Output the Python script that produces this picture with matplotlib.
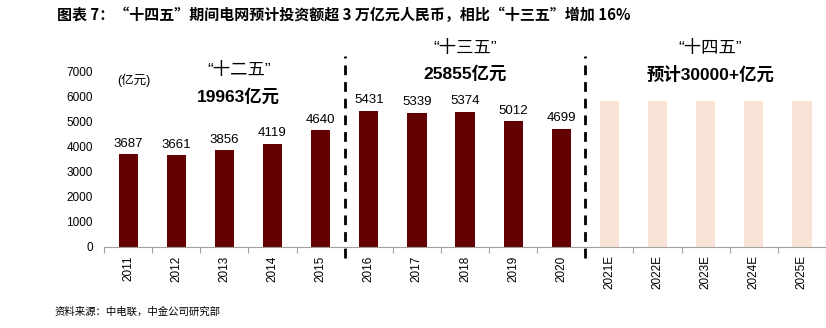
import matplotlib
matplotlib.use("Agg")
import matplotlib.pyplot as plt

plt.rcParams["font.family"] = ["Liberation Sans", "Noto Sans CJK SC", "DejaVu Sans"]

years = ["2011", "2012", "2013", "2014", "2015",
         "2016", "2017", "2018", "2019", "2020",
         "2021E", "2022E", "2023E", "2024E", "2025E"]
actual = [3687, 3661, 3856, 4119, 4640, 5431, 5339, 5374, 5012, 4699]
forecast = [5800, 5800, 5800, 5800, 5800]   # 30000 亿元 spread as placeholders
yticks = [0, 1000, 2000, 3000, 4000, 5000, 6000, 7000]

DARK = "#650000"
LIGHT = "#f9e3d6"

fig = plt.figure(figsize=(8.26, 3.28), dpi=100)
ax = fig.add_axes([0.126, 0.247, 0.874, 0.536])

n_act = len(actual)
x_act = list(range(n_act))
x_fc = list(range(n_act, n_act + len(forecast)))
ax.bar(x_act, actual, width=0.4, color=DARK, zorder=2)
ax.bar(x_fc, forecast, width=0.4, color=LIGHT, zorder=2)

for x, v in zip(x_act, actual):
    ax.text(x, v + 180, f"{v}", ha="center", va="bottom", fontsize=9.5, clip_on=False)

ax.set_xlim(-0.5, len(years) - 0.5)
ax.set_ylim(0, 7000)
ax.set_yticks(yticks)
ax.set_yticklabels([str(t) for t in yticks], fontsize=8.5)
ax.set_xticks(range(len(years)))
ax.set_xticklabels(years, rotation=90, fontsize=8.5)
ax.tick_params(axis="y", length=0, pad=8)
ax.tick_params(axis="x", length=0, pad=6)

# category separators on the baseline
ax.set_xticks([i - 0.5 for i in range(len(years) + 1)], minor=True)
ax.tick_params(axis="x", which="minor", length=4, color="#a0a0a0", width=0.8)

for s in ("top", "right", "left"):
    ax.spines[s].set_visible(False)
ax.spines["bottom"].set_color("#a0a0a0")
ax.spines["bottom"].set_linewidth(0.8)

# period dividers
for xd in (4.5, 9.5):
    ax.plot([xd, xd], [-450, 7600], color="black", lw=2, ls=(0, (3.5, 2.5)),
            clip_on=False, zorder=3)

ax.text(-0.22, 6650, "(亿元)", fontsize=9, va="center", ha="left")
ax.text(2.3, 7040, "“十二五”", fontsize=12.5, ha="center", va="center", clip_on=False)
ax.text(2.3, 5980, "19963亿元", fontsize=12.5, fontweight="bold", ha="center", va="center")
ax.text(7.0, 7930, "“十三五”", fontsize=12.5, ha="center", va="center", clip_on=False)
ax.text(7.0, 6900, "25855亿元", fontsize=12.5, fontweight="bold", ha="center", va="center", clip_on=False)
ax.text(12.1, 7930, "“十四五”", fontsize=12.5, ha="center", va="center", clip_on=False)
ax.text(12.1, 6900, "预计30000+亿元", fontsize=12.5, fontweight="bold", ha="center", va="center", clip_on=False)

fig.text(0.069, 0.954, "图表 7：“十四五”期间电网预计投资额超 3 万亿元人民币，相比“十三五”增加 16%",
         fontsize=10.8, fontweight="bold", ha="left", va="center",
         family=["Noto Sans CJK SC", "DejaVu Sans"])
fig.text(0.066, 0.05, "资料来源：中电联，中金公司研究部", fontsize=7.5, ha="left", va="center",
         family=["Noto Sans CJK SC", "DejaVu Sans"])

fig.savefig("out.png", dpi=100)
